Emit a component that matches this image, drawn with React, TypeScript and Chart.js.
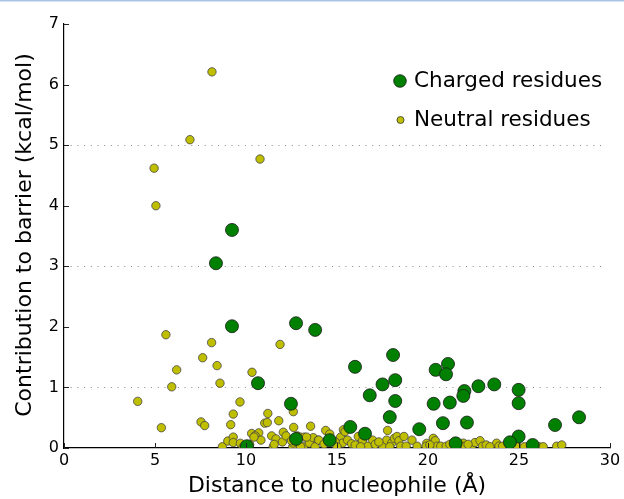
import React, { useEffect, useRef } from "react";
import { Chart, registerables } from "chart.js";

Chart.register(...registerables);

const chargedX = [9.23, 8.35, 9.23, 12.75, 13.8, 10.66, 12.47, 12.75, 10.05, 14.6, 15.99, 18.08, 17.5, 18.2, 16.8, 18.2, 17.9, 15.73, 16.54, 19.52, 20.42, 21.1, 20.99, 20.31, 21.2, 20.82, 21.52, 22.0, 21.94, 22.14, 22.77, 23.64, 24.98, 24.98, 24.98, 24.5, 25.75, 26.98, 28.3];
const chargedY = [3.6, 3.05, 2.01, 2.06, 1.95, 1.07, 0.73, 0.15, 0.03, 0.13, 1.34, 1.535, 1.05, 1.12, 0.87, 0.776, 0.51, 0.347, 0.236, 0.31, 1.29, 1.387, 1.217, 0.73, 0.75, 0.41, 0.077, 0.94, 0.86, 0.42, 1.02, 1.05, 0.96, 0.74, 0.19, 0.094, 0.05, 0.38, 0.507];

const neutralX = [8.13, 6.92, 4.95, 5.05, 10.77, 5.6, 8.11, 11.87, 7.62, 8.41, 6.19, 10.33, 8.57, 5.92, 4.05, 9.67, 9.3, 11.2, 12.6, 7.53, 7.73, 9.16, 11.03, 11.17, 11.8, 5.35, 12.62, 13.55,
  8.7, 9.0, 9.3, 9.3, 9.69, 9.85, 10.31, 10.7, 10.5, 10.82, 10.44, 10.2, 11.41, 11.65, 11.5, 11.55, 12.05, 12.0, 12.2, 12.57, 12.6, 12.82, 12.97, 13.15, 13.2, 13.48, 13.48, 13.7, 13.97, 13.0, 12.5, 13.33, 13.8, 14.0, 14.29, 14.38, 14.6, 15.2, 15.35, 15.44, 15.3, 15.58, 15.8, 16.17, 16.4, 16.7, 16.96, 17.1, 17.5, 17.78, 17.73, 18.0, 18.15, 18.3, 18.4, 18.68, 18.5, 18.8, 19.12, 19.93, 19.9, 20.29, 20.4, 20.5, 20.7, 21.0, 21.2, 21.94, 22.0, 22.4, 22.58, 22.86, 23.0, 23.2, 23.77, 23.9, 24.1, 24.5, 24.9, 25.3, 26.1, 26.33, 27.07, 27.35, 14.9, 15.0, 16.0, 16.3, 17.3, 17.9, 19.4, 20.1, 21.6, 22.2, 23.4];
const neutralY = [6.21, 5.09, 4.62, 4.0, 4.77, 1.87, 1.74, 1.71, 1.49, 1.36, 1.29, 1.25, 1.07, 1.01, 0.77, 0.76, 0.56, 0.57, 0.6, 0.43, 0.37, 0.385, 0.41, 0.42, 0.45, 0.335, 0.34, 0.36,
  0.02, 0.115, 0.18, 0.09, 0.077, 0.02, 0.24, 0.25, 0.2, 0.13, 0.18, 0.06, 0.2, 0.15, 0.02, 0.06, 0.26, 0.1, 0.2, 0.02, 0.08, 0.2, 0.18, 0.02, 0.18, 0.15, 0.08, 0.17, 0.13, 0.02, 0.12, 0.18, 0.02, 0.13, 0.066, 0.29, 0.23, 0.18, 0.3, 0.27, 0.08, 0.13, 0.07, 0.19, 0.12, 0.03, 0.13, 0.06, 0.04, 0.29, 0.13, 0.08, 0.16, 0.19, 0.12, 0.19, 0.03, 0.03, 0.13, 0.077, 0.03, 0.16, 0.12, 0.03, 0.03, 0.03, 0.06, 0.08, 0.03, 0.03, 0.09, 0.12, 0.03, 0.05, 0.08, 0.03, 0.03, 0.02, 0.03, 0.02, 0.02, 0.02, 0.03, 0.05, 0.1, 0.02, 0.05, 0.02, 0.1, 0.02, 0.03, 0.05, 0.02, 0.06, 0.02];

const xTicks = [0, 5, 10, 15, 20, 25, 30];
const yTicks = [0, 1, 2, 3, 4, 5, 6, 7];
const gridLevels = [1, 3, 5];
const seriesNames = ["Charged residues", "Neutral residues"];
const xTitle = "Distance to nucleophile (Å)";
const yTitle = "Contribution to barrier (kcal/mol)";

const GREEN = "#008000";
const YELLOW = "#bfbf00";
const FONT = "'DejaVu Sans', sans-serif";

const decorPlugin = {
  id: "decor",
  beforeDatasetsDraw(chart: any) {
    const { ctx, scales } = chart;
    const xs = scales.x, ys = scales.y;
    ctx.save();
    ctx.strokeStyle = "#888";
    ctx.lineWidth = 1;
    ctx.setLineDash([1, 5.7]);
    gridLevels.forEach((v) => {
      const py = Math.round(ys.getPixelForValue(v)) + 0.5;
      ctx.beginPath();
      ctx.moveTo(xs.getPixelForValue(0), py);
      ctx.lineTo(xs.getPixelForValue(29.7), py);
      ctx.stroke();
    });
    ctx.restore();
  },
  afterDraw(chart: any) {
    const { ctx, scales, chartArea } = chart;
    const xs = scales.x, ys = scales.y;
    ctx.save();
    ctx.fillStyle = "#a9c4e4";
    ctx.fillRect(0, 0, chart.width, 1.5);
    ctx.strokeStyle = "#222";
    ctx.lineWidth = 1;
    xTicks.forEach((v) => {
      const px = Math.round(xs.getPixelForValue(v)) + 0.5;
      ctx.beginPath();
      ctx.moveTo(px, chartArea.bottom);
      ctx.lineTo(px, chartArea.bottom - 5);
      ctx.stroke();
    });
    yTicks.forEach((v) => {
      const py = Math.round(ys.getPixelForValue(v)) + 0.5;
      ctx.beginPath();
      ctx.moveTo(chartArea.left, py);
      ctx.lineTo(chartArea.left + 5, py);
      ctx.stroke();
    });
    ctx.fillStyle = "#000";
    ctx.font = `22px ${FONT}`;
    ctx.textAlign = "center";
    ctx.textBaseline = "middle";
    ctx.fillText(xTitle, (chartArea.left + chartArea.right) / 2, 486);
    ctx.save();
    ctx.translate(25, 235);
    ctx.rotate(-Math.PI / 2);
    ctx.fillText(yTitle, 0, 0);
    ctx.restore();
    ctx.font = `21.5px ${FONT}`;
    ctx.textAlign = "left";
    ctx.lineWidth = 0.8;
    ctx.strokeStyle = "#1a1a1a";
    ctx.fillStyle = GREEN;
    ctx.beginPath();
    ctx.arc(400, 81, 6.3, 0, Math.PI * 2);
    ctx.fill();
    ctx.stroke();
    ctx.fillStyle = YELLOW;
    ctx.strokeStyle = "#333";
    ctx.beginPath();
    ctx.arc(400.5, 120, 3.5, 0, Math.PI * 2);
    ctx.fill();
    ctx.stroke();
    ctx.fillStyle = "#000";
    ctx.fillText(seriesNames[0], 414, 81);
    ctx.fillText(seriesNames[1], 414, 120);
    ctx.restore();
  },
};

export default function App() {
  const ref = useRef<HTMLCanvasElement>(null);
  useEffect(() => {
    if (!ref.current) return;
    const chart = new Chart(ref.current, {
      type: "scatter",
      data: {
        datasets: [
          {
            label: seriesNames[0],
            data: chargedX.map((x, i) => ({ x, y: chargedY[i] })),
            backgroundColor: GREEN,
            borderColor: "#1a1a1a",
            borderWidth: 0.8,
            pointRadius: 6.5,
            clip: 0,
          },
          {
            label: seriesNames[1],
            data: neutralX.map((x, i) => ({ x, y: neutralY[i] })),
            backgroundColor: YELLOW,
            borderColor: "#444",
            borderWidth: 0.8,
            pointRadius: 4.2,
            clip: 0,
          },
        ],
      },
      options: {
        responsive: false,
        animation: false,
        layout: { padding: { top: 24, right: 14, left: 0, bottom: 0 } },
        plugins: { legend: { display: false }, tooltip: { enabled: false } },
        scales: {
          x: {
            type: "linear",
            min: 0,
            max: 30,
            afterFit: (s: any) => { s.height = 51; },
            afterBuildTicks: (s: any) => { s.ticks = xTicks.map((v) => ({ value: v })); },
            grid: { display: false, drawTicks: false },
            border: { display: true, color: "#000", width: 1.2 },
            ticks: { color: "#000", padding: 3, font: { family: FONT, size: 16 }, maxRotation: 0 },
          },
          y: {
            type: "linear",
            min: 0,
            max: 7,
            afterFit: (s: any) => { s.width = 64; },
            afterBuildTicks: (s: any) => { s.ticks = yTicks.map((v) => ({ value: v })); },
            grid: { display: false, drawTicks: false },
            border: { display: true, color: "#000", width: 1.2 },
            ticks: { color: "#000", padding: 5, font: { family: FONT, size: 16 } },
          },
        },
      },
      plugins: [decorPlugin],
    });
    return () => chart.destroy();
  }, []);
  return (
    <div style={{ position: "fixed", left: 0, top: 0, width: 624, height: 499, background: "#fff" }}>
      <canvas ref={ref} width={624} height={499} style={{ width: 624, height: 499 }} />
    </div>
  );
}
